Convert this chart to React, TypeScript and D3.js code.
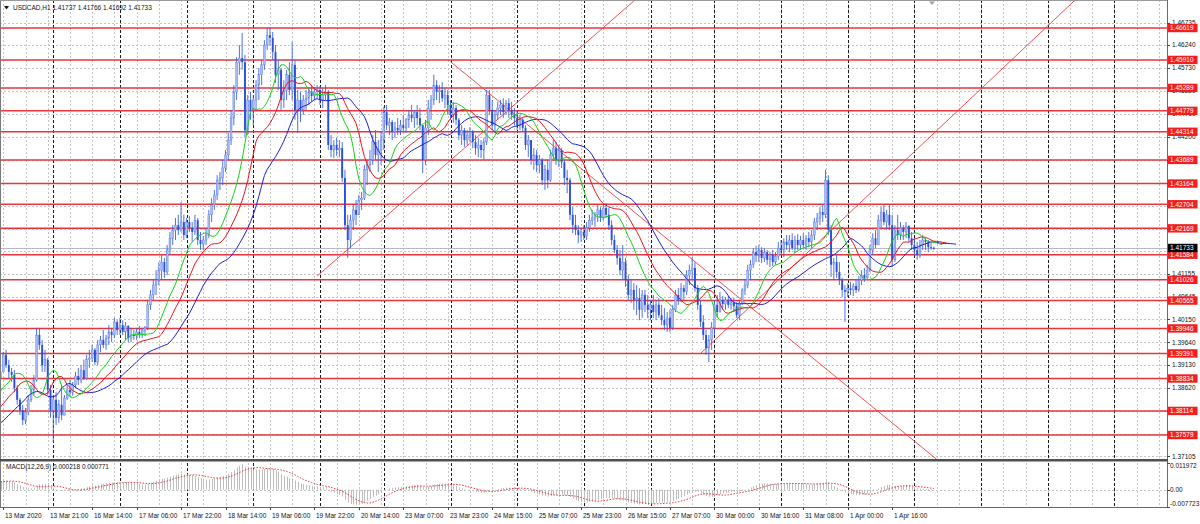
import React from 'react';
import * as d3 from 'd3';

// ---------------- DATA ----------------
const SYMBOL = 'USDCAD,H1';
const HEADER_VALUES = ['1.41737', '1.41766', '1.41692', '1.41733'];
const MACD_TITLE = 'MACD(12,26,9) 0.000218 0.000771';
const CURRENT_PRICE = 1.41733;
const CURRENT_LABEL = '1.41733';

// 24 bars before the first visible bar (off-screen history used by the indicators)
const HIDDEN_BARS = 24;
const FIRST_OPEN = 1.3720;

const highs = [
  1.3738, 1.3747, 1.3745, 1.3756, 1.3769, 1.3767, 1.3778, 1.3791, 1.3789, 1.3802, 1.3813, 1.3811,
  1.3825, 1.3836, 1.3847, 1.3858, 1.3856, 1.3869, 1.3880, 1.3891, 1.3889, 1.3902, 1.3913, 1.3907,
  1.3913, 1.3942, 1.3947, 1.3925, 1.3907, 1.3902, 1.3869, 1.3840, 1.3825, 1.3818,
  1.3847, 1.3869, 1.3891, 1.3996, 1.3996, 1.3969, 1.3947, 1.3929, 1.3869, 1.3847,
  1.3853, 1.3836, 1.3869, 1.3847, 1.3869, 1.3880, 1.3876, 1.3898, 1.3907, 1.3913,
  1.3925, 1.3936, 1.3947, 1.3958, 1.3951, 1.3969, 1.3978, 1.3991, 1.3980, 1.4002,
  1.3996, 1.4018, 1.4013, 1.4018, 1.4013, 1.4009, 1.4002, 1.3996, 1.3991, 1.3996,
  1.4000, 1.3996, 1.4000, 1.4058, 1.4080, 1.4102, 1.4124, 1.4142, 1.4158, 1.4151,
  1.4180, 1.4209, 1.4224, 1.4240, 1.4247, 1.4275, 1.4247, 1.4240, 1.4244, 1.4231,
  1.4247, 1.4240, 1.4209, 1.4200, 1.4218, 1.4258, 1.4284, 1.4302, 1.4335, 1.4342,
  1.4369, 1.4391, 1.4429, 1.4480, 1.4535, 1.4597, 1.4624, 1.4651, 1.4602, 1.4513,
  1.4520, 1.4513, 1.4546, 1.4573, 1.4591, 1.4635, 1.4662, 1.4664, 1.4653, 1.4624,
  1.4591, 1.4573, 1.4546, 1.4569, 1.4586, 1.4631, 1.4591, 1.4524, 1.4520, 1.4513,
  1.4524, 1.4529, 1.4535, 1.4531, 1.4535, 1.4533, 1.4529, 1.4535, 1.4524, 1.4424,
  1.4413, 1.4418, 1.4413, 1.4409, 1.4347, 1.4247, 1.4247, 1.4269, 1.4280, 1.4291,
  1.4298, 1.4358, 1.4369, 1.4391, 1.4424, 1.4435, 1.4413, 1.4431, 1.4487, 1.4491,
  1.4462, 1.4458, 1.4453, 1.4462, 1.4458, 1.4469, 1.4462, 1.4480, 1.4491, 1.4480,
  1.4491, 1.4484, 1.4446, 1.4458, 1.4502, 1.4513, 1.4558, 1.4546, 1.4535, 1.4542,
  1.4529, 1.4524, 1.4502, 1.4498, 1.4491, 1.4462, 1.4446, 1.4440, 1.4435, 1.4442,
  1.4435, 1.4424, 1.4418, 1.4413, 1.4418, 1.4524, 1.4524, 1.4502, 1.4480, 1.4498,
  1.4502, 1.4506, 1.4502, 1.4506, 1.4498, 1.4484, 1.4480, 1.4469, 1.4462, 1.4446,
  1.4424, 1.4413, 1.4395, 1.4391, 1.4380, 1.4373, 1.4358, 1.4369, 1.4391, 1.4413,
  1.4409, 1.4402, 1.4395, 1.4369, 1.4347, 1.4329, 1.4264, 1.4247, 1.4224, 1.4218,
  1.4224, 1.4231, 1.4247, 1.4258, 1.4253, 1.4269, 1.4264, 1.4273, 1.4273, 1.4262,
  1.4235, 1.4202, 1.4180, 1.4169, 1.4180, 1.4151, 1.4113, 1.4102, 1.4095, 1.4091,
  1.4084, 1.4080, 1.4080, 1.4069, 1.4058, 1.4069, 1.4058, 1.4062, 1.4047, 1.4040,
  1.4031, 1.4036, 1.4047, 1.4080, 1.4084, 1.4095, 1.4091, 1.4124, 1.4136, 1.4153,
  1.4142, 1.4091, 1.4058, 1.4024, 1.3991, 1.3980, 1.4009, 1.4058, 1.4069, 1.4076,
  1.4067, 1.4064, 1.4067, 1.4062, 1.4062, 1.4053, 1.4058, 1.4084, 1.4102, 1.4136,
  1.4147, 1.4173, 1.4178, 1.4180, 1.4175, 1.4173, 1.4169, 1.4164, 1.4169, 1.4164,
  1.4187, 1.4191, 1.4195, 1.4202, 1.4202, 1.4206, 1.4200, 1.4204, 1.4200, 1.4206,
  1.4202, 1.4209, 1.4213, 1.4240, 1.4251, 1.4264, 1.4269, 1.4347, 1.4335, 1.4224,
  1.4151, 1.4158, 1.4142, 1.4107, 1.4091, 1.4095, 1.4098, 1.4095, 1.4102, 1.4111,
  1.4124, 1.4129, 1.4136, 1.4180, 1.4206, 1.4213, 1.4247, 1.4264, 1.4269, 1.4258,
  1.4269, 1.4247, 1.4224, 1.4247, 1.4231, 1.4224, 1.4231, 1.4224, 1.4209, 1.4195,
  1.4187, 1.4191, 1.4202, 1.4195, 1.4191, 1.4184, 1.41766,
];

const lows = [
  1.3711, 1.3720, 1.3718, 1.3725, 1.3742, 1.3740, 1.3747, 1.3762, 1.3765, 1.3769, 1.3785, 1.3787,
  1.3791, 1.3807, 1.3818, 1.3831, 1.3829, 1.3836, 1.3853, 1.3862, 1.3865, 1.3869, 1.3884, 1.3880,
  1.3880, 1.3898, 1.3907, 1.3884, 1.3876, 1.3853, 1.3825, 1.3802, 1.3780, 1.3782,
  1.3802, 1.3831, 1.3847, 1.3876, 1.3947, 1.3898, 1.3898, 1.3847, 1.3796, 1.3742,
  1.3780, 1.3785, 1.3791, 1.3802, 1.3836, 1.3843, 1.3845, 1.3862, 1.3869, 1.3873,
  1.3880, 1.3880, 1.3907, 1.3920, 1.3913, 1.3913, 1.3942, 1.3951, 1.3947, 1.3958,
  1.3964, 1.3973, 1.3980, 1.3980, 1.3980, 1.3969, 1.3964, 1.3964, 1.3969, 1.3969,
  1.3973, 1.3973, 1.3978, 1.3991, 1.4036, 1.4058, 1.4069, 1.4091, 1.4102, 1.4107,
  1.4113, 1.4158, 1.4180, 1.4191, 1.4202, 1.4209, 1.4191, 1.4195, 1.4209, 1.4187,
  1.4202, 1.4180, 1.4169, 1.4169, 1.4180, 1.4195, 1.4231, 1.4258, 1.4280, 1.4302,
  1.4313, 1.4342, 1.4369, 1.4402, 1.4446, 1.4502, 1.4558, 1.4569, 1.4420, 1.4424,
  1.4458, 1.4446, 1.4480, 1.4502, 1.4535, 1.4569, 1.4613, 1.4624, 1.4591, 1.4540,
  1.4524, 1.4480, 1.4484, 1.4502, 1.4513, 1.4502, 1.4458, 1.4429, 1.4453, 1.4469,
  1.4480, 1.4491, 1.4498, 1.4502, 1.4506, 1.4491, 1.4484, 1.4502, 1.4391, 1.4375,
  1.4373, 1.4378, 1.4375, 1.4320, 1.4213, 1.4151, 1.4173, 1.4213, 1.4224, 1.4247,
  1.4258, 1.4280, 1.4313, 1.4342, 1.4358, 1.4369, 1.4342, 1.4358, 1.4391, 1.4435,
  1.4424, 1.4413, 1.4418, 1.4424, 1.4424, 1.4431, 1.4429, 1.4440, 1.4453, 1.4440,
  1.4446, 1.4435, 1.4340, 1.4358, 1.4424, 1.4458, 1.4491, 1.4502, 1.4495, 1.4498,
  1.4484, 1.4469, 1.4458, 1.4451, 1.4446, 1.4413, 1.4402, 1.4398, 1.4402, 1.4409,
  1.4395, 1.4380, 1.4375, 1.4373, 1.4369, 1.4402, 1.4469, 1.4435, 1.4429, 1.4458,
  1.4469, 1.4462, 1.4469, 1.4462, 1.4458, 1.4446, 1.4435, 1.4435, 1.4431, 1.4391,
  1.4375, 1.4358, 1.4347, 1.4342, 1.4340, 1.4313, 1.4302, 1.4306, 1.4320, 1.4369,
  1.4358, 1.4353, 1.4351, 1.4313, 1.4295, 1.4235, 1.4206, 1.4202, 1.4184, 1.4187,
  1.4191, 1.4191, 1.4209, 1.4224, 1.4220, 1.4231, 1.4231, 1.4235, 1.4240, 1.4213,
  1.4180, 1.4162, 1.4136, 1.4113, 1.4102, 1.4087, 1.4058, 1.4051, 1.4036, 1.4024,
  1.4013, 1.4018, 1.4031, 1.4018, 1.4013, 1.4018, 1.4013, 1.4018, 1.4002, 1.3991,
  1.3987, 1.3987, 1.3991, 1.4031, 1.4047, 1.4053, 1.4058, 1.4069, 1.4091, 1.4102,
  1.4076, 1.4036, 1.3998, 1.3969, 1.3936, 1.3920, 1.3947, 1.3980, 1.4018, 1.4031,
  1.4036, 1.4036, 1.4040, 1.4036, 1.4031, 1.4018, 1.4013, 1.4047, 1.4069, 1.4084,
  1.4102, 1.4129, 1.4142, 1.4142, 1.4140, 1.4142, 1.4136, 1.4131, 1.4133, 1.4136,
  1.4147, 1.4158, 1.4153, 1.4169, 1.4164, 1.4169, 1.4162, 1.4169, 1.4169, 1.4173,
  1.4169, 1.4175, 1.4173, 1.4191, 1.4213, 1.4224, 1.4231, 1.4240, 1.4202, 1.4109,
  1.4102, 1.4107, 1.4091, 1.4064, 1.4009, 1.4064, 1.4069, 1.4067, 1.4073, 1.4076,
  1.4091, 1.4098, 1.4102, 1.4120, 1.4158, 1.4173, 1.4180, 1.4218, 1.4224, 1.4213,
  1.4213, 1.4131, 1.4142, 1.4191, 1.4191, 1.4191, 1.4195, 1.4187, 1.4169, 1.4158,
  1.4147, 1.4151, 1.4169, 1.4169, 1.4164, 1.4169, 1.41692,
];

const closes = [
  1.3725, 1.3736, 1.3729, 1.3747, 1.3758, 1.3751, 1.3769, 1.3780, 1.3774, 1.3791, 1.3802, 1.3796,
  1.3813, 1.3825, 1.3836, 1.3847, 1.3840, 1.3858, 1.3869, 1.3880, 1.3876, 1.3891, 1.3902, 1.3884,
  1.3898, 1.3936, 1.3913, 1.3898, 1.3891, 1.3862, 1.3836, 1.3813, 1.3791, 1.3809,
  1.3836, 1.3858, 1.3880, 1.3980, 1.3958, 1.3913, 1.3925, 1.3858, 1.3813, 1.3836,
  1.3796, 1.3825, 1.3802, 1.3840, 1.3858, 1.3853, 1.3869, 1.3889, 1.3880, 1.3902,
  1.3884, 1.3925, 1.3929, 1.3947, 1.3920, 1.3958, 1.3969, 1.3958, 1.3973, 1.3987,
  1.3980, 1.4009, 1.3991, 1.4002, 1.3987, 1.4000, 1.3973, 1.3980, 1.3978, 1.3987,
  1.3982, 1.3991, 1.3996, 1.4047, 1.4069, 1.4091, 1.4102, 1.4124, 1.4142, 1.4120,
  1.4169, 1.4195, 1.4213, 1.4224, 1.4213, 1.4231, 1.4202, 1.4231, 1.4218, 1.4209,
  1.4235, 1.4191, 1.4182, 1.4191, 1.4202, 1.4247, 1.4269, 1.4291, 1.4324, 1.4329,
  1.4351, 1.4380, 1.4413, 1.4462, 1.4520, 1.4586, 1.4595, 1.4586, 1.4435, 1.4502,
  1.4480, 1.4502, 1.4535, 1.4558, 1.4580, 1.4624, 1.4646, 1.4640, 1.4609, 1.4558,
  1.4569, 1.4502, 1.4524, 1.4558, 1.4524, 1.4580, 1.4480, 1.4502, 1.4480, 1.4502,
  1.4506, 1.4520, 1.4511, 1.4520, 1.4524, 1.4502, 1.4513, 1.4520, 1.4402, 1.4391,
  1.4402, 1.4391, 1.4395, 1.4329, 1.4224, 1.4191, 1.4235, 1.4258, 1.4247, 1.4280,
  1.4284, 1.4347, 1.4358, 1.4369, 1.4409, 1.4380, 1.4391, 1.4413, 1.4475, 1.4446,
  1.4453, 1.4431, 1.4440, 1.4435, 1.4446, 1.4440, 1.4458, 1.4469, 1.4462, 1.4475,
  1.4462, 1.4446, 1.4369, 1.4440, 1.4484, 1.4502, 1.4535, 1.4520, 1.4524, 1.4506,
  1.4513, 1.4491, 1.4469, 1.4484, 1.4458, 1.4424, 1.4435, 1.4413, 1.4424, 1.4431,
  1.4409, 1.4395, 1.4402, 1.4391, 1.4409, 1.4513, 1.4480, 1.4446, 1.4469, 1.4484,
  1.4491, 1.4475, 1.4495, 1.4480, 1.4469, 1.4462, 1.4446, 1.4458, 1.4440, 1.4402,
  1.4413, 1.4369, 1.4380, 1.4358, 1.4369, 1.4324, 1.4347, 1.4324, 1.4380, 1.4395,
  1.4369, 1.4391, 1.4364, 1.4329, 1.4324, 1.4247, 1.4224, 1.4213, 1.4202, 1.4209,
  1.4200, 1.4218, 1.4235, 1.4240, 1.4247, 1.4258, 1.4240, 1.4262, 1.4247, 1.4224,
  1.4191, 1.4169, 1.4151, 1.4124, 1.4142, 1.4102, 1.4069, 1.4080, 1.4058, 1.4062,
  1.4036, 1.4069, 1.4047, 1.4036, 1.4047, 1.4031, 1.4047, 1.4024, 1.4013, 1.4002,
  1.4018, 1.3996, 1.4036, 1.4069, 1.4058, 1.4084, 1.4076, 1.4113, 1.4124, 1.4129,
  1.4084, 1.4047, 1.4009, 1.3980, 1.3951, 1.3969, 1.3996, 1.4047, 1.4031, 1.4058,
  1.4049, 1.4058, 1.4047, 1.4053, 1.4044, 1.4024, 1.4051, 1.4080, 1.4091, 1.4124,
  1.4136, 1.4164, 1.4158, 1.4169, 1.4151, 1.4164, 1.4147, 1.4158, 1.4142, 1.4155,
  1.4173, 1.4169, 1.4187, 1.4180, 1.4191, 1.4173, 1.4191, 1.4180, 1.4191, 1.4180,
  1.4195, 1.4187, 1.4202, 1.4231, 1.4240, 1.4253, 1.4247, 1.4324, 1.4213, 1.4136,
  1.4142, 1.4120, 1.4102, 1.4080, 1.4076, 1.4084, 1.4080, 1.4089, 1.4080, 1.4102,
  1.4113, 1.4107, 1.4124, 1.4169, 1.4195, 1.4180, 1.4235, 1.4253, 1.4231, 1.4247,
  1.4224, 1.4147, 1.4213, 1.4202, 1.4218, 1.4209, 1.4222, 1.4195, 1.4180, 1.4169,
  1.4158, 1.4180, 1.4191, 1.4187, 1.4175, 1.41737, 1.41733,
];

// horizontal support/resistance levels (red)
const levels = [
  1.46619, 1.4591, 1.45289, 1.44779, 1.44314, 1.43689, 1.43164, 1.42704, 1.42169,
  1.41584, 1.41026, 1.40565, 1.39946, 1.39391, 1.38834, 1.38114, 1.37579,
];
const levelLabels = [
  '1.46619', '1.45910', '1.45289', '1.44779', '1.44314', '1.43689', '1.43164', '1.42704', '1.42169',
  '1.41584', '1.41026', '1.40565', '1.39946', '1.39391', '1.38834', '1.38114', '1.37579',
];

// price scale ticks (grid rows); labels hidden under a level label are left empty
const priceTicks = [
  1.46735, 1.4624, 1.4573, 1.4522, 1.4471, 1.442, 1.4369, 1.4318, 1.4267, 1.4216,
  1.41655, 1.41155, 1.40645, 1.4015, 1.3964, 1.3913, 1.3862, 1.3811, 1.376, 1.37105,
];
const priceTickLabels = [
  '1.46735', '1.46240', '1.45730', '1.45220', '1.44710', '1.44200', '', '', '', '',
  '', '1.41155', '1.40645', '1.40150', '1.39640', '1.39130', '1.38620', '', '', '1.37105',
];
const PRICE_MIN = 1.37046;
const PRICE_MAX = 1.47241;

// MACD scale
const macdTicks = [0.011972, 0, -0.007723];
const macdTickLabels = ['0.011972', '0.00', '-0.007723'];

// time axis: labels every 16 bars, starting at visible bar 1
const timeLabels = [
  '13 Mar 2020', '13 Mar 21:00', '16 Mar 14:00', '17 Mar 06:00', '17 Mar 22:00', '18 Mar 14:00',
  '19 Mar 06:00', '19 Mar 22:00', '20 Mar 14:00', '23 Mar 07:00', '23 Mar 23:00', '24 Mar 15:00',
  '25 Mar 07:00', '25 Mar 23:00', '26 Mar 15:00', '27 Mar 07:00', '30 Mar 00:00', '30 Mar 16:00',
  '31 Mar 08:00', '1 Apr 00:00', '1 Apr 16:00',
];
// first bar of each day (visible bar index), incl. future days
const dayStartBars = [19, 43, 67, 91, 115, 138, 162, 186, 210, 234, 257, 281, 305, 329, 353, 377, 401];

// trendlines (rays): [barIndex, price] anchors
const trendA = [[114, 1.4111], [162, 1.4587], [252, 1.3939]];
const trendB = [[223, 1.4695], [336, 1.3709], [336, 1.4428]];

// ---------------- LAYOUT ----------------
const W = 1200;
const H = 524;
const PLOT_R = 1167;
const MAIN_T = 0;
const MAIN_B = 459;
const MACD_T = 463;
const MACD_B = 507;
const BAR_STEP = 2.7778;
const FONT = '"Liberation Sans", Arial, sans-serif';
const FS = 6.5;

function smma(src: number[], n: number): number[] {
  const out: number[] = [];
  let prev = NaN;
  for (let i = 0; i < src.length; i++) {
    if (i < n - 1) out.push(NaN);
    else if (i === n - 1) {
      prev = d3.mean(src.slice(0, n)) as number;
      out.push(prev);
    } else {
      prev = (prev * (n - 1) + src[i]) / n;
      out.push(prev);
    }
  }
  return out;
}

function ema(src: number[], n: number): number[] {
  const k = 2 / (n + 1);
  const out: number[] = [];
  let prev = src[0];
  src.forEach((v, i) => {
    prev = i === 0 ? v : v * k + prev * (1 - k);
    out.push(prev);
  });
  return out;
}

export default function App() {
  const total = closes.length;
  const visible = total - HIDDEN_BARS;
  const opens = closes.map((_, g) => (g === 0 ? FIRST_OPEN : closes[g - 1]));

  const x = d3.scaleLinear().domain([0, 1]).range([0.5, 0.5 + BAR_STEP]);
  const y = d3.scaleLinear().domain([PRICE_MIN, PRICE_MAX]).range([MAIN_B, MAIN_T]);
  const ym = d3.scaleLinear().domain([macdTicks[2], macdTicks[0]]).range([MACD_B, MACD_T]);

  // Alligator on median price
  const median = highs.map((h, i) => (h + lows[i]) / 2);
  const alligator = [
    { period: 13, shift: 8, color: '#1f1fd6' },
    { period: 8, shift: 5, color: '#e8141c' },
    { period: 5, shift: 3, color: '#18d018' },
  ].map((a) => {
    const s = smma(median, a.period);
    const pts: [number, number][] = [];
    s.forEach((v, g) => {
      if (!isNaN(v)) pts.push([x(g + a.shift - HIDDEN_BARS), y(v)]);
    });
    return { ...a, d: d3.line()(pts) as string };
  });

  // MACD
  const e12 = ema(closes, 12);
  const e26 = ema(closes, 26);
  const macd = e12.map((v, i) => v - e26[i]);
  const signal = macd.map((_, i) => d3.mean(macd.slice(Math.max(0, i - 8), i + 1)) as number);
  const sigPts: [number, number][] = [];
  for (let g = HIDDEN_BARS; g < total; g++) sigPts.push([x(g - HIDDEN_BARS), ym(signal[g])]);

  const maxBar = Math.floor((PLOT_R - 0.5) / BAR_STEP);
  const gridBars = d3.range(1, maxBar + 1, 8);

  const rays = trendA.map((a, k) => {
    const b = trendB[k];
    const x1 = x(a[0]);
    const y1 = y(a[1]);
    const x2 = x(b[0]);
    const y2 = y(b[1]);
    const slope = (y2 - y1) / (x2 - x1);
    const xe = PLOT_R + 50;
    return { x1, y1, x2: xe, y2: y1 + slope * (xe - x1) };
  });

  const candles = d3.range(visible).map((i) => {
    const g = i + HIDDEN_BARS;
    const o = opens[g];
    const c = closes[g];
    const hi = Math.max(highs[g], o, c);
    const lo = Math.min(lows[g], o, c);
    return { i, o, c, hi, lo, bull: c >= o };
  });

  const zeroY = ym(0);

  return (
    <svg
      width={W}
      height={H}
      viewBox={`0 0 ${W} ${H}`}
      style={{ position: 'absolute', left: 0, top: 0, background: '#fff', display: 'block' }}
      fontFamily={FONT}
    >
      <defs>
        <clipPath id="mainClip">
          <rect x={1} y={1} width={PLOT_R - 1} height={MAIN_B - 1} />
        </clipPath>
        <clipPath id="macdClip">
          <rect x={1} y={MACD_T} width={PLOT_R - 1} height={MACD_B - MACD_T} />
        </clipPath>
      </defs>
      <rect x={0} y={0} width={W} height={H} fill="#ffffff" />

      {/* grid: main panel */}
      <g clipPath="url(#mainClip)">
        {priceTicks.map((p, k) => (
          <line key={'hg' + k} x1={0} x2={PLOT_R} y1={Math.round(y(p)) + 0.5} y2={Math.round(y(p)) + 0.5}
            stroke="#c4c4c4" strokeDasharray="2,2" strokeWidth={1} />
        ))}
        {gridBars.map((b) => (
          <line key={'vg' + b} x1={Math.round(x(b)) + 0.5} x2={Math.round(x(b)) + 0.5} y1={0} y2={MAIN_B}
            stroke="#c4c4c4" strokeDasharray="2,2" strokeWidth={1} />
        ))}
        {dayStartBars.map((b) => (
          <line key={'ds' + b} x1={Math.round(x(b)) + 0.5} x2={Math.round(x(b)) + 0.5} y1={0} y2={MAIN_B}
            stroke="#1a1a1a" strokeDasharray="3,2" strokeWidth={1} />
        ))}
      </g>
      {/* grid: macd panel */}
      <g clipPath="url(#macdClip)">
        {gridBars.map((b) => (
          <line key={'mvg' + b} x1={Math.round(x(b)) + 0.5} x2={Math.round(x(b)) + 0.5} y1={MACD_T} y2={MACD_B}
            stroke="#c4c4c4" strokeDasharray="2,2" />
        ))}
        {dayStartBars.map((b) => (
          <line key={'mds' + b} x1={Math.round(x(b)) + 0.5} x2={Math.round(x(b)) + 0.5} y1={MACD_T} y2={MACD_B}
            stroke="#1a1a1a" strokeDasharray="3,2" />
        ))}
        <line x1={0} x2={PLOT_R} y1={Math.round(zeroY) + 0.5} y2={Math.round(zeroY) + 0.5}
          stroke="#c4c4c4" strokeDasharray="2,2" />
      </g>

      {/* red horizontal levels */}
      <g clipPath="url(#mainClip)">
        {levels.map((p, k) => (
          <line key={'lv' + k} x1={0} x2={PLOT_R} y1={y(p)} y2={y(p)} stroke="#e8343c" strokeWidth={1.5} />
        ))}
        {/* current bid line */}
        <line x1={0} x2={PLOT_R} y1={Math.round(y(CURRENT_PRICE)) + 0.5} y2={Math.round(y(CURRENT_PRICE)) + 0.5}
          stroke="#b8b8c8" strokeWidth={1} />
        {/* trendlines */}
        {rays.map((r, k) => (
          <line key={'tl' + k} x1={r.x1} y1={r.y1} x2={r.x2} y2={r.y2} stroke="#f03c3c" strokeWidth={0.9} />
        ))}
        {/* candles */}
        {candles.map((c) => {
          const cx = x(c.i);
          const yo = y(c.o);
          const yc = y(c.c);
          const top = Math.min(yo, yc);
          const hgt = Math.max(0.9, Math.abs(yo - yc));
          return (
            <g key={'c' + c.i}>
              <line x1={cx} x2={cx} y1={y(c.hi)} y2={y(c.lo)} stroke="#3d62dc" strokeWidth={0.9} />
              <rect x={cx - 0.95} y={top} width={1.9} height={hgt}
                fill={c.bull ? '#a9bbf0' : '#2c50d6'} stroke={c.bull ? '#5577e0' : 'none'} strokeWidth={0.4} />
            </g>
          );
        })}
        {/* alligator */}
        {alligator.map((a) => (
          <path key={'al' + a.period} d={a.d} fill="none" stroke={a.color} strokeWidth={1} />
        ))}
      </g>

      {/* MACD */}
      <g clipPath="url(#macdClip)">
        {d3.range(visible).map((i) => {
          const g = i + HIDDEN_BARS;
          const cx = Math.round(x(i)) + 0.5;
          return <line key={'mh' + i} x1={cx} x2={cx} y1={zeroY} y2={ym(macd[g])} stroke="#bdbdbd" strokeWidth={1} />;
        })}
        <path d={d3.line()(sigPts) as string} fill="none" stroke="#e8343c" strokeWidth={1} strokeDasharray="1.5,1.5" />
      </g>

      {/* frames */}
      <line x1={0.5} x2={0.5} y1={0} y2={MACD_B + 1} stroke="#7a7a7a" />
      <line x1={0} x2={PLOT_R} y1={0.5} y2={0.5} stroke="#9a9a9a" />
      <line x1={PLOT_R + 0.5} x2={PLOT_R + 0.5} y1={0} y2={MACD_B + 1} stroke="#6a6a6a" />
      <rect x={0} y={MAIN_B} width={PLOT_R + 1} height={2.5} fill="#505050" />
      <line x1={0} x2={PLOT_R + 1} y1={MACD_B + 0.5} y2={MACD_B + 0.5} stroke="#6a6a6a" />

      {/* price scale */}
      {priceTicks.map((p, k) => (
        <g key={'pt' + k}>
          <line x1={PLOT_R} x2={PLOT_R + 3} y1={Math.round(y(p)) + 0.5} y2={Math.round(y(p)) + 0.5} stroke="#444" />
          {priceTickLabels[k] ? (
            <text x={PLOT_R + 5} y={y(p) + 2.3} fontSize={FS} fill="#111">{priceTickLabels[k]}</text>
          ) : null}
        </g>
      ))}
      {levels.map((p, k) => (
        <g key={'ll' + k}>
          <rect x={PLOT_R + 1} y={y(p) - 4.2} width={29.5} height={8.4} fill="#f41e1e" />
          <text x={PLOT_R + 3} y={y(p) + 2.3} fontSize={FS} fill="#ffffff">{levelLabels[k]}</text>
        </g>
      ))}
      <rect x={PLOT_R + 1} y={y(CURRENT_PRICE) - 4.2} width={29.5} height={8.4} fill="#000000" />
      <text x={PLOT_R + 3} y={y(CURRENT_PRICE) + 2.3} fontSize={FS} fill="#ffffff">{CURRENT_LABEL}</text>

      {/* macd scale */}
      {macdTicks.map((v, k) => {
        const ty = k === 0 ? MACD_T + 3 : k === 2 ? MACD_B - 3 : ym(v);
        return (
          <g key={'mt' + k}>
            <line x1={PLOT_R} x2={PLOT_R + 3} y1={Math.round(ym(v)) + 0.5} y2={Math.round(ym(v)) + 0.5} stroke="#444" />
            <text x={PLOT_R + 3} y={ty + 2.3} fontSize={FS} fill="#111">{macdTickLabels[k]}</text>
          </g>
        );
      })}

      {/* time axis */}
      {timeLabels.map((t, k) => {
        const b = 1 + k * 16;
        const tx = Math.round(x(b)) + 0.5;
        return (
          <g key={'tl' + k}>
            <line x1={tx} x2={tx} y1={MACD_B} y2={MACD_B + 3} stroke="#444" />
            <text x={tx + 1.5} y={518} fontSize={FS} fill="#111">{t}</text>
          </g>
        );
      })}

      {/* headers */}
      <path d="M4,6 L9,6 L6.5,9.5 Z" fill="#111" />
      <text x={13} y={10} fontSize={FS} fill="#111">{SYMBOL}  {HEADER_VALUES.join(' ')}</text>
      <text x={6} y={469} fontSize={FS} fill="#111">{MACD_TITLE}</text>
      <path d="M929,1.5 L935,1.5 L932,5 Z" fill="#a0a0a0" />
    </svg>
  );
}
